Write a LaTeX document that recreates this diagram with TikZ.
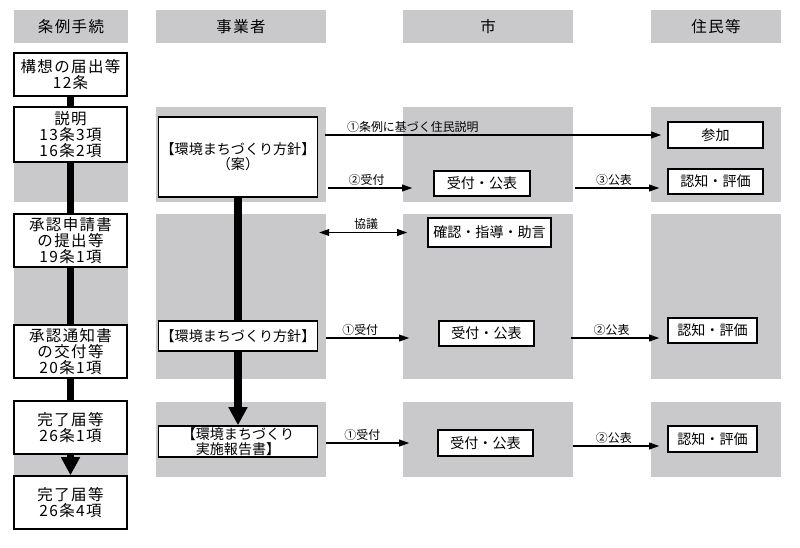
\documentclass[tikz,border=0pt]{standalone}
\usepackage{fontspec}
\setmainfont{Noto Sans CJK JP}
\newfontfamily\spacedfont[LetterSpace=9]{Noto Sans CJK JP}
\usetikzlibrary{arrows.meta}
\definecolor{BandGray}{HTML}{C9C9CB}

\begin{document}
\begin{tikzpicture}[x=0.025cm, y=-0.025cm,
        box/.style={draw, line width=1.1pt, fill=white, inner sep=0pt, align=center, font=\fontsize{10}{10.5}\selectfont},
        stepbox/.style={box, minimum width=2.825cm, font=\spacedfont\fontsize{11}{11.5}\selectfont},
        head/.style={fill=BandGray, inner sep=0pt, minimum height=0.825cm, font=\spacedfont\fontsize{11}{12}\selectfont},
        lab/.style={above, inner sep=1.5pt, font=\fontsize{8.5}{9}\selectfont},
        spine/.style={line width=5pt},
        spinetip/.style={spine, -{Triangle[width=0.45cm, length=0.45cm]}},
        >={Triangle[width=0.17cm, length=0.25cm]}, line width=0.8pt]
        \useasboundingbox (0,0) rectangle (800,547);
        \foreach \ya/\yb in {107/202, 214/379, 402/477}
            \foreach \xa/\xb in {14/128, 156/326, 403/573, 651/781}
                \fill[BandGray] (\xa,\ya) rectangle (\xb,\yb);
        \node[head, minimum width=2.85cm] (h1) at (71,26.5) {条例手続};
        \node[head, minimum width=4.25cm] (h2) at (241,26.5) {事業者};
        \node[head, minimum width=4.25cm] (h3) at (488,26.5) {市};
        \node[head, minimum width=3.25cm] (h4) at (716,26.5) {住民等};
        \node[stepbox, minimum height=1.075cm] (p1) at (70.5,74.5) {構想の届出等\\12条};
        \node[stepbox, minimum height=1.375cm] (p2) at (70.5,134.5) {説明\\13条3項\\16条2項};
        \node[stepbox, minimum height=1.325cm] (p3) at (70.5,240.5) {承認申請書\\の提出等\\19条1項};
        \node[stepbox, minimum height=1.325cm] (p4) at (70.5,351.5) {承認通知書\\の交付等\\20条1項};
        \node[stepbox, minimum height=1.325cm] (p5) at (70.5,427.5) {完了届等\\26条1項};
        \node[stepbox, minimum height=1.325cm] (p6) at (70.5,502.5) {完了届等\\26条4項};
        \node[box, minimum width=3.975cm, minimum height=2cm] (b1) at (238,157) {【環境まちづくり方針】\\（案）};
        \node[box, minimum width=3.975cm, minimum height=0.75cm] (b2) at (238,336) {【環境まちづくり方針】};
        \node[box, minimum width=3.975cm, minimum height=0.775cm] (b3) at (238,441.5) {【環境まちづくり\\実施報告書】};
        \node[box, minimum width=2.4cm, minimum height=0.625cm] (s1) at (482,183.5) {受付・公表};
        \node[box, minimum width=3.075cm, minimum height=0.725cm] (s2) at (489.5,232.5) {確認・指導・助言};
        \node[box, minimum width=2.375cm, minimum height=0.625cm] (s3) at (486.5,333.5) {受付・公表};
        \node[box, minimum width=2.375cm, minimum height=0.65cm] (s4) at (485.5,443) {受付・公表};
        \node[box, minimum width=2.375cm, minimum height=0.65cm] (r1) at (715.5,135) {参加};
        \node[box, minimum width=2.375cm, minimum height=0.625cm] (r2) at (715.5,181.5) {認知・評価};
        \node[box, minimum width=2.225cm, minimum height=0.625cm] (r3) at (712.5,330.5) {認知・評価};
        \node[box, minimum width=2.225cm, minimum height=0.65cm] (r4) at (712.5,439) {認知・評価};
        \foreach \a/\b in {p1/p2, p2/p3, p3/p4, p4/p5}
            \draw[spine] (\a.south) -- (\b.north);
        \draw[spinetip] (p5.south) -- (p6.north);
        \draw[spine] (b1.south) -- (b2.north);
        \draw[spinetip] (b2.south) -- (b3.north);
        \draw[->, shorten <=0.175cm, shorten >=0.15cm] (b1.east |- r1.west) -- (r1.west)
            node[lab, anchor=south west, pos=0.075] {①条例に基づく住民説明};
        \coordinate (u1) at ([yshift=-0.1125cm]s1.west);
        \draw[->, shorten <=0.25cm, shorten >=0.525cm] (b1.east |- u1) -- (u1) node[lab, pos=0.42] {②受付};
        \coordinate (u2) at ([yshift=-0.1625cm]r2.west);
        \draw[->, shorten <=1.1cm, shorten >=0.2cm] (s1.east |- u2) -- (u2) node[lab, pos=0.61] {③公表};
        \coordinate (k1) at ([xshift=-2.7cm]s2.west);
        \draw[<->, shorten >=0.5cm] (k1) -- (s2.west) node[lab, pos=0.435] {協議};
        \coordinate (u3) at ([yshift=-0.1125cm]s3.west);
        \draw[->, shorten <=0.19cm, shorten >=0.725cm] (b2.east |- u3) -- (u3) node[lab, pos=0.35] {①受付};
        \coordinate (u4) at ([yshift=-0.1875cm]r3.west);
        \draw[->, shorten <=0.9cm, shorten >=0.2cm] (s3.east |- u4) -- (u4) node[lab, pos=0.58] {②公表};
        \draw[->, shorten <=0.19cm, shorten >=0.7cm] (b3.east |- s4.west) -- (s4.west) node[lab, pos=0.37] {①受付};
        \coordinate (u5) at ([yshift=-0.175cm]r4.west);
        \draw[->, shorten <=0.975cm, shorten >=0.2cm] (s4.east |- u5) -- (u5) node[lab, pos=0.6] {②公表};
    \end{tikzpicture}
\end{document}
